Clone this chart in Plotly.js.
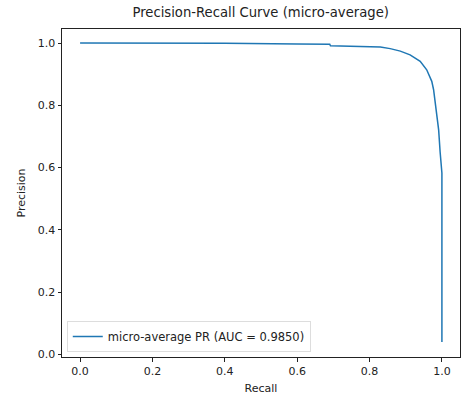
<!DOCTYPE html>
<html>
<head>
<meta charset="utf-8">
<script src="https://cdn.plot.ly/plotly-3.0.1.min.js"></script>
<style>html,body{margin:0;padding:0;background:#fff;}#chart{width:463px;height:395px;}</style>
</head>
<body>
<div id="chart"></div>
<script>
const recall = [0, 0.2, 0.4, 0.6, 0.69, 0.692, 0.75, 0.8, 0.83, 0.857, 0.885, 0.912, 0.94, 0.958, 0.972, 0.977, 0.981, 0.983, 0.984, 0.986, 0.991, 0.995, 0.998, 1.0, 1.0];
const precision = [1.0, 1.0, 0.999, 0.997, 0.996, 0.991, 0.99, 0.989, 0.987, 0.982, 0.974, 0.962, 0.941, 0.914, 0.877, 0.85, 0.812, 0.79, 0.78, 0.759, 0.721, 0.651, 0.61, 0.583, 0.04];
const seriesName = "micro-average PR (AUC = 0.9850)";
const tickVals = [0, 0.2, 0.4, 0.6, 0.8, 1.0];
const tickText = ["0.0", "0.2", "0.4", "0.6", "0.8", "1.0"];

const font = {family: "DejaVu Sans, sans-serif", size: 11, color: "#222"};
const axisCommon = {
  showgrid: false, zeroline: false, showline: true, mirror: true,
  linecolor: "#222", linewidth: 1, ticks: "outside", ticklen: 3.5,
  tickcolor: "#222", tickwidth: 1, tickvals: tickVals, ticktext: tickText,
  tickfont: font
};
Plotly.newPlot("chart", [{
  x: recall, y: precision, type: "scatter", mode: "lines",
  line: {color: "#1f77b4", width: 1.5, shape: "linear"},
  name: seriesName
}], {
  width: 463, height: 395,
  margin: {l: 62, r: 3, t: 29, b: 38},
  paper_bgcolor: "#fff", plot_bgcolor: "#fff",
  font: font,
  title: {text: "Precision-Recall Curve (micro-average)", font: {family: "DejaVu Sans, sans-serif", size: 13.2, color: "#222"}, x: 0.563, xanchor: "center", y: 0.98, yanchor: "top"},
  xaxis: Object.assign({}, axisCommon, {range: [-0.05, 1.05], title: {text: "Recall", font: font, standoff: 7}}),
  yaxis: Object.assign({}, axisCommon, {range: [-0.008, 1.045], title: {text: "Precision", font: font, standoff: 9}}),
  showlegend: true,
  legend: {x: 0.012, y: 0.015, xanchor: "left", yanchor: "bottom", bgcolor: "rgba(255,255,255,0.8)", bordercolor: "#ddd", borderwidth: 1, itemwidth: 30, tracegroupgap: 0, font: {family: "DejaVu Sans, sans-serif", size: 11.5, color: "#222"}}
}, {displayModeBar: false, staticPlot: true});
</script>
</body>
</html>
